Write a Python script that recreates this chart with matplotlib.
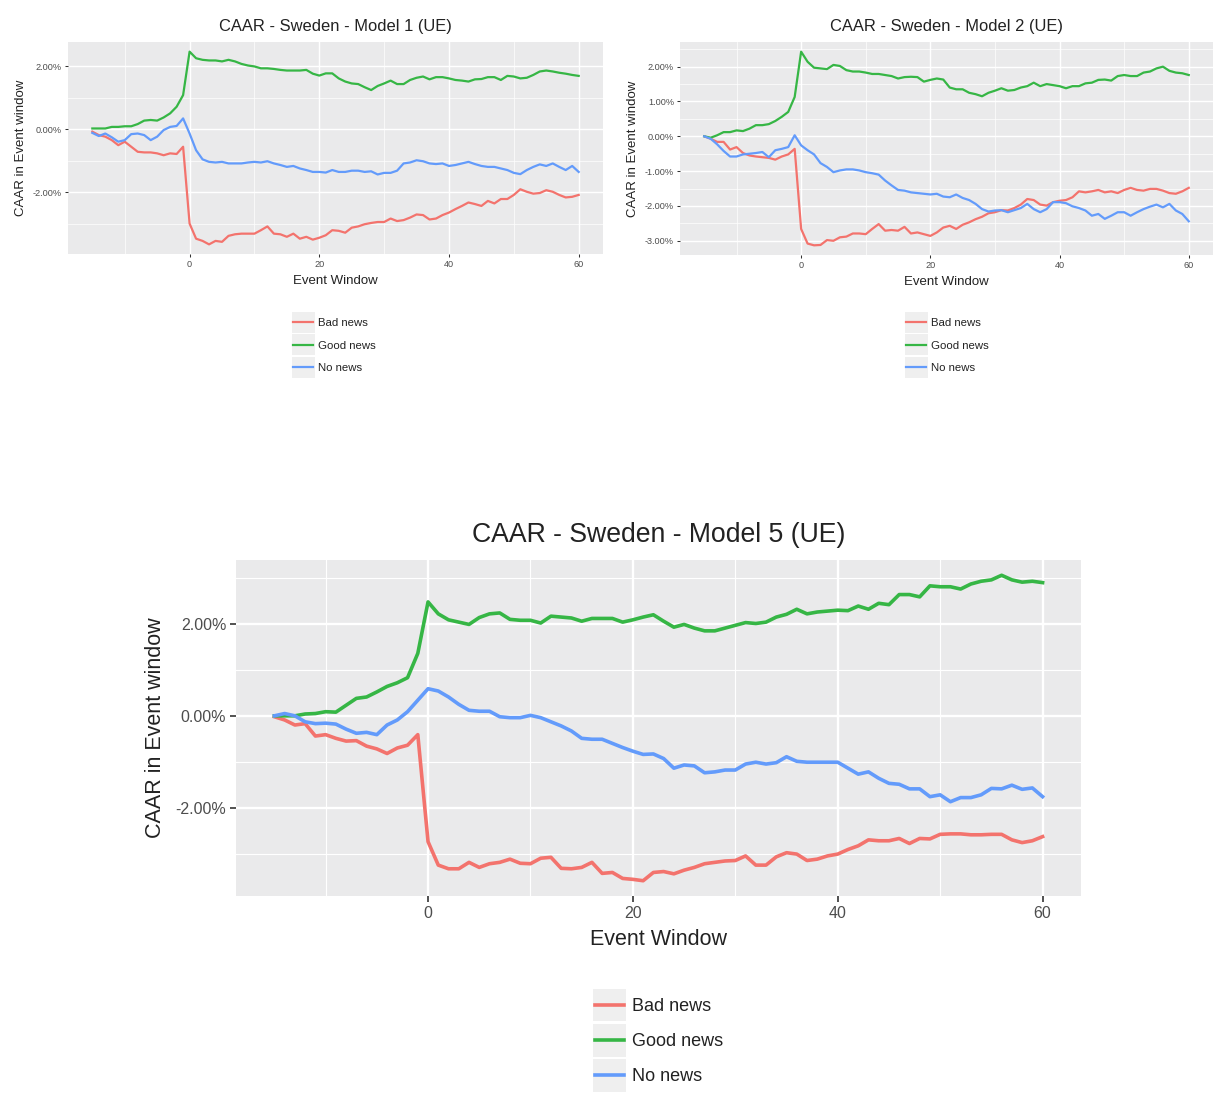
import matplotlib
matplotlib.use("Agg")
import matplotlib.pyplot as plt
from matplotlib.ticker import FixedLocator, FuncFormatter
from matplotlib.patches import Rectangle
from matplotlib.lines import Line2D

plt.rcParams['font.family'] = ['Liberation Sans', 'DejaVu Sans']

event_window = list(range(-15, 61))
series_names = ["Bad news", "Good news", "No news"]
colors = {"Bad news": "#F3736D", "Good news": "#36B645", "No news": "#639BFB"}

# ---- Model 1 (CAAR in %) ----
m1_bad = [-0.07, -0.18, -0.23, -0.34, -0.50, -0.39, -0.55, -0.71, -0.73, -0.73, -0.76, -0.82, -0.76, -0.78, -0.55,
          -2.99, -3.47, -3.54, -3.65, -3.54, -3.57, -3.38, -3.33, -3.31, -3.31, -3.31, -3.20, -3.08, -3.31, -3.33,
          -3.41, -3.31, -3.47, -3.41, -3.50, -3.44, -3.36, -3.20, -3.22, -3.28, -3.12, -3.08, -3.01, -2.97, -2.94,
          -2.94, -2.83, -2.91, -2.88, -2.80, -2.70, -2.72, -2.86, -2.83, -2.72, -2.64, -2.53, -2.43, -2.32, -2.37,
          -2.43, -2.27, -2.35, -2.21, -2.21, -2.08, -1.90, -1.98, -2.04, -2.02, -1.93, -1.98, -2.08, -2.16, -2.14,
          -2.08]
m1_good = [0.03, 0.03, 0.03, 0.08, 0.08, 0.10, 0.10, 0.17, 0.28, 0.30, 0.28, 0.38, 0.51, 0.72, 1.09,
           2.47, 2.26, 2.21, 2.19, 2.19, 2.16, 2.21, 2.16, 2.08, 2.03, 2.00, 1.94, 1.94, 1.92, 1.89,
           1.87, 1.87, 1.87, 1.89, 1.77, 1.71, 1.78, 1.78, 1.62, 1.52, 1.46, 1.44, 1.34, 1.25, 1.38,
           1.46, 1.55, 1.44, 1.44, 1.57, 1.64, 1.68, 1.59, 1.66, 1.66, 1.62, 1.57, 1.55, 1.52, 1.59,
           1.60, 1.66, 1.66, 1.57, 1.70, 1.68, 1.62, 1.64, 1.73, 1.84, 1.87, 1.84, 1.80, 1.77, 1.73,
           1.70]
m1_none = [-0.11, -0.21, -0.13, -0.25, -0.39, -0.34, -0.15, -0.13, -0.18, -0.34, -0.23, -0.02, 0.08, 0.11, 0.35,
           -0.13, -0.66, -0.95, -1.03, -1.05, -1.03, -1.08, -1.08, -1.08, -1.05, -1.03, -1.05, -1.01, -1.08, -1.13,
           -1.19, -1.16, -1.24, -1.29, -1.35, -1.35, -1.37, -1.29, -1.35, -1.35, -1.31, -1.31, -1.35, -1.33, -1.43,
           -1.38, -1.38, -1.31, -1.08, -1.05, -0.98, -1.01, -1.08, -1.10, -1.08, -1.16, -1.13, -1.08, -1.03, -1.10,
           -1.16, -1.19, -1.19, -1.24, -1.29, -1.38, -1.42, -1.29, -1.19, -1.11, -1.16, -1.08, -1.19, -1.29, -1.16,
           -1.35]

# ---- Model 2 ----
m2_bad = [0.00, -0.07, -0.16, -0.16, -0.38, -0.31, -0.48, -0.55, -0.58, -0.60, -0.62, -0.67, -0.58, -0.52, -0.36,
          -2.66, -3.08, -3.13, -3.12, -2.98, -3.00, -2.90, -2.88, -2.79, -2.79, -2.81, -2.66, -2.52, -2.71, -2.69,
          -2.71, -2.60, -2.79, -2.76, -2.81, -2.86, -2.76, -2.62, -2.57, -2.66, -2.54, -2.47, -2.38, -2.31, -2.21,
          -2.18, -2.12, -2.13, -2.06, -1.96, -1.80, -1.83, -1.96, -1.99, -1.89, -1.85, -1.83, -1.75, -1.58, -1.61,
          -1.58, -1.54, -1.61, -1.58, -1.63, -1.54, -1.48, -1.54, -1.56, -1.51, -1.51, -1.56, -1.63, -1.65, -1.58,
          -1.48]
m2_good = [0.00, -0.04, 0.03, 0.12, 0.12, 0.17, 0.15, 0.22, 0.32, 0.32, 0.35, 0.44, 0.56, 0.70, 1.13,
           2.43, 2.14, 1.97, 1.95, 1.93, 2.05, 2.02, 1.90, 1.86, 1.86, 1.83, 1.79, 1.79, 1.76, 1.73,
           1.66, 1.70, 1.71, 1.70, 1.57, 1.62, 1.66, 1.63, 1.40, 1.35, 1.35, 1.25, 1.21, 1.15, 1.25,
           1.31, 1.38, 1.31, 1.33, 1.40, 1.44, 1.54, 1.44, 1.50, 1.47, 1.44, 1.38, 1.44, 1.44, 1.52,
           1.54, 1.62, 1.63, 1.60, 1.73, 1.76, 1.73, 1.73, 1.83, 1.86, 1.95, 2.00, 1.88, 1.83, 1.81,
           1.76]
m2_none = [0.00, -0.07, -0.23, -0.42, -0.58, -0.58, -0.52, -0.50, -0.48, -0.45, -0.60, -0.40, -0.36, -0.31, 0.03,
           -0.26, -0.40, -0.52, -0.77, -0.88, -1.03, -0.98, -0.95, -0.95, -0.98, -1.03, -1.06, -1.10, -1.27, -1.41,
           -1.54, -1.56, -1.61, -1.63, -1.65, -1.67, -1.65, -1.73, -1.75, -1.67, -1.77, -1.83, -1.94, -2.09, -2.16,
           -2.13, -2.12, -2.18, -2.12, -2.06, -1.94, -2.09, -2.18, -2.09, -1.89, -1.89, -1.92, -2.01, -2.06, -2.13,
           -2.28, -2.23, -2.37, -2.28, -2.18, -2.18, -2.28, -2.18, -2.09, -2.02, -1.96, -2.04, -1.94, -2.13, -2.23,
           -2.44]

# ---- Model 5 ----
m5_bad = [-0.02, -0.09, -0.20, -0.17, -0.44, -0.41, -0.49, -0.55, -0.54, -0.66, -0.72, -0.82, -0.70, -0.64, -0.41,
          -2.74, -3.25, -3.33, -3.33, -3.19, -3.30, -3.22, -3.19, -3.12, -3.21, -3.22, -3.10, -3.08, -3.32, -3.33,
          -3.30, -3.19, -3.43, -3.41, -3.54, -3.56, -3.59, -3.41, -3.39, -3.44, -3.36, -3.30, -3.22, -3.19, -3.16,
          -3.15, -3.05, -3.25, -3.25, -3.07, -2.98, -3.01, -3.15, -3.12, -3.05, -3.01, -2.91, -2.83, -2.70, -2.72,
          -2.72, -2.67, -2.78, -2.67, -2.68, -2.58, -2.57, -2.57, -2.59, -2.59, -2.58, -2.58, -2.70, -2.76, -2.72,
          -2.63]
m5_good = [0.00, 0.00, 0.00, 0.04, 0.05, 0.09, 0.08, 0.23, 0.38, 0.41, 0.52, 0.64, 0.72, 0.83, 1.36,
           2.48, 2.22, 2.09, 2.04, 1.99, 2.14, 2.22, 2.24, 2.10, 2.08, 2.08, 2.02, 2.17, 2.15, 2.13,
           2.06, 2.12, 2.12, 2.12, 2.04, 2.09, 2.15, 2.20, 2.06, 1.93, 1.99, 1.91, 1.85, 1.85, 1.91,
           1.97, 2.03, 2.01, 2.04, 2.15, 2.21, 2.32, 2.22, 2.26, 2.28, 2.30, 2.29, 2.39, 2.32, 2.45,
           2.42, 2.64, 2.64, 2.59, 2.83, 2.81, 2.81, 2.76, 2.87, 2.93, 2.96, 3.06, 2.96, 2.91, 2.93,
           2.90]
m5_none = [0.00, 0.05, 0.00, -0.13, -0.17, -0.16, -0.18, -0.29, -0.38, -0.36, -0.41, -0.20, -0.09, 0.09, 0.34,
           0.59, 0.54, 0.41, 0.25, 0.12, 0.10, 0.10, -0.02, -0.04, -0.04, 0.01, -0.04, -0.13, -0.22, -0.33,
           -0.49, -0.51, -0.51, -0.60, -0.69, -0.77, -0.84, -0.83, -0.93, -1.14, -1.07, -1.09, -1.24, -1.22, -1.18,
           -1.18, -1.05, -1.01, -1.05, -1.02, -0.89, -0.99, -1.01, -1.01, -1.01, -1.01, -1.14, -1.27, -1.22, -1.36,
           -1.47, -1.49, -1.59, -1.59, -1.76, -1.72, -1.87, -1.78, -1.78, -1.72, -1.58, -1.59, -1.51, -1.60, -1.57,
           -1.76]

panels = [
    dict(title="CAAR - Sweden - Model 1 (UE)", data=[m1_bad, m1_good, m1_none],
         ymajor=[-2, 0, 2], yminor=[-3, -1, 1], big=False,
         box=(68, 42, 603, 254), legend=(292, 312)),
    dict(title="CAAR - Sweden - Model 2 (UE)", data=[m2_bad, m2_good, m2_none],
         ymajor=[-3, -2, -1, 0, 1, 2], yminor=[-2.5, -1.5, -0.5, 0.5, 1.5, 2.5], big=False,
         box=(680, 42, 1213, 255), legend=(905, 312)),
    dict(title="CAAR - Sweden - Model 5 (UE)", data=[m5_bad, m5_good, m5_none],
         ymajor=[-2, 0, 2], yminor=[-3, -1, 1, 3], big=True,
         box=(236, 560, 1081, 896), legend=(593, 989)),
]
xmajor = [0, 20, 40, 60]
xminor = [-10, 10, 30, 50]


class GGKeyHandler:
    """ggplot-like legend key: grey square box with a centred line."""
    def __init__(self, box_h_pt, inset_pt):
        self.box_h = box_h_pt
        self.inset = inset_pt

    def legend_artist(self, legend, orig_handle, fontsize, handlebox):
        x0 = -handlebox.xdescent
        w = handlebox.width
        c = 0.34 * fontsize
        rect = Rectangle((x0, c - self.box_h / 2), w, self.box_h,
                         facecolor="#EFEFEF", edgecolor="none",
                         transform=handlebox.get_transform())
        ln = Line2D([x0 + self.inset, x0 + w - self.inset], [c, c],
                    color=orig_handle.get_color(), lw=orig_handle.get_linewidth(),
                    transform=handlebox.get_transform())
        handlebox.add_artist(rect)
        handlebox.add_artist(ln)
        return ln


W, H = 1213, 1098
fig = plt.figure(figsize=(W / 100, H / 100), dpi=100)
fig.patch.set_facecolor("white")

for p in panels:
    x0, y0, x1, y1 = p["box"]
    ax = fig.add_axes([x0 / W, 1 - y1 / H, (x1 - x0) / W, (y1 - y0) / H])
    big = p["big"]
    s = 1.0 if big else 0.62
    ax.set_facecolor("#EAEAEB")
    for sp in ax.spines.values():
        sp.set_visible(False)
    lw = 2.6 if big else 1.6
    lines = []
    for name, vals in zip(series_names, p["data"]):
        ln, = ax.plot(event_window, vals, color=colors[name], lw=lw, label=name,
                      solid_joinstyle="round", zorder=3)
        lines.append(ln)
    ax.margins(x=0.05, y=0.05)
    ax.xaxis.set_major_locator(FixedLocator(xmajor))
    ax.xaxis.set_minor_locator(FixedLocator(xminor))
    ax.yaxis.set_major_locator(FixedLocator(p["ymajor"]))
    ax.yaxis.set_minor_locator(FixedLocator(p["yminor"]))
    ax.yaxis.set_major_formatter(FuncFormatter(lambda v, pos: f"{v:.2f}%"))
    ax.grid(True, which="major", color="white", lw=1.7 * s, zorder=0)
    ax.grid(True, which="minor", color="white", lw=0.8 * s, zorder=0)
    ax.set_axisbelow(True)
    fs_tick = 11.5 if big else 6.6
    ax.tick_params(which="major", length=4 * s, width=1.2 * s, color="#333333",
                   labelcolor="#4D4D4D", labelsize=fs_tick, pad=3 * s)
    ax.tick_params(which="minor", length=0)
    fs_lab = 15.5 if big else 9.5
    ax.set_xlabel("Event Window", fontsize=fs_lab, color="#222222", labelpad=6 * s if big else 7 * s)
    ax.set_ylabel("CAAR in Event window", fontsize=fs_lab, color="#222222", labelpad=7 * s)
    ax.set_title(p["title"], fontsize=19.2 if big else 11.9, color="#222222",
                 pad=13 if big else 8)

    # legend with ggplot-like grey key boxes
    fs_leg = 13 if big else 8.2
    lx, ly = p["legend"]
    handler = GGKeyHandler(box_h_pt=23.6 if big else 15.0, inset_pt=1.5 if big else 1.0)
    fig.legend(lines, series_names, handler_map={ln: handler for ln in lines},
               loc="upper left", bbox_to_anchor=(lx / W, 1 - ly / H), frameon=False,
               fontsize=fs_leg, handlelength=1.85 if big else 2.0,
               handleheight=2.46 if big else 2.5, labelspacing=0.1, handletextpad=0.3,
               borderpad=0, borderaxespad=0, labelcolor="#222222")

fig.savefig("out.png", dpi=100, facecolor="white")
